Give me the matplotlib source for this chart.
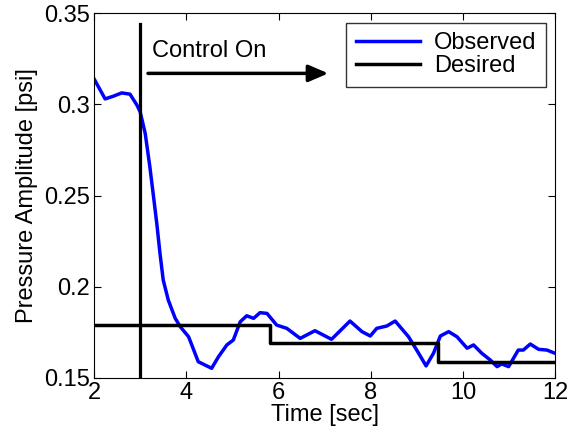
import numpy as np
import matplotlib.pyplot as plt

plt.rcParams['font.family'] = ['Liberation Sans', 'DejaVu Sans']
plt.rcParams['font.size'] = 17

# Observed pressure amplitude (psi) vs time (sec)
t_obs = [2.0, 2.12, 2.24, 2.42, 2.6, 2.78, 2.93, 3.0, 3.11, 3.21, 3.29, 3.36,
         3.43, 3.50, 3.61, 3.76, 3.87, 4.05, 4.26, 4.55, 4.70, 4.88, 5.02, 5.17,
         5.31, 5.46, 5.60, 5.75, 5.96, 6.18, 6.47, 6.79, 7.15, 7.55, 7.81, 7.99,
         8.13, 8.35, 8.53, 8.82, 9.04, 9.20, 9.36, 9.51, 9.69, 9.87, 10.09,
         10.23, 10.41, 10.59, 10.74, 10.84, 10.99, 11.20, 11.31, 11.46, 11.64,
         11.82, 12.0]
p_obs = [0.314, 0.3085, 0.303, 0.3045, 0.3063, 0.3056, 0.2996, 0.2959, 0.284,
         0.2658, 0.2494, 0.2348, 0.2183, 0.2037, 0.1927, 0.1827, 0.1781, 0.1726,
         0.1589, 0.1553, 0.1617, 0.1681, 0.1708, 0.1808, 0.1841, 0.1827, 0.1858,
         0.1854, 0.1790, 0.1772, 0.1717, 0.1759, 0.1712, 0.1812, 0.1754, 0.1730,
         0.1772, 0.1785, 0.1812, 0.1726, 0.1635, 0.1566, 0.1635, 0.1730, 0.1754,
         0.1726, 0.1663, 0.1681, 0.1635, 0.1599, 0.1562, 0.1577, 0.1562, 0.1653,
         0.1653, 0.1686, 0.1657, 0.1653, 0.1635]

# Desired set-point steps
t_des = [2.0, 5.82, 9.46, 12.0]
p_des = [0.179, 0.169, 0.159, 0.159]

t_on = 3.0

fig = plt.figure(figsize=(5.7, 4.4), dpi=100)
ax = fig.add_axes([0.165, 0.141, 0.809, 0.829])

ax.plot(t_obs, p_obs, color='#0000ff', lw=2.5, label='Observed')
ax.plot(t_des, p_des, color='black', lw=2.5, drawstyle='steps-post', label='Desired')
ax.plot([t_on, t_on], [0.15, 0.344], color='black', lw=2.3)

ax.annotate('', xy=(7.08, 0.317), xytext=(3.17, 0.317),
            arrowprops=dict(arrowstyle='-|>,head_length=0.7,head_width=0.3',
                            color='black', lw=2.5, shrinkA=0, shrinkB=0))
ax.text(3.26, 0.329, 'Control On', fontsize=17, va='center', ha='left')

ax.set_xlim(2, 12)
ax.set_ylim(0.15, 0.35)
ax.set_xticks([2, 4, 6, 8, 10, 12])
ax.set_yticks([0.15, 0.2, 0.25, 0.3, 0.35])
ax.set_yticklabels(['0.15', '0.2', '0.25', '0.3', '0.35'])
ax.tick_params(direction='in', top=True, right=True, length=5, pad=3)
ax.set_xlabel('Time [sec]', labelpad=0)
ax.set_ylabel('Pressure Amplitude [psi]', labelpad=4)

leg = ax.legend(loc='upper right', fontsize=17, frameon=True, fancybox=False,
                edgecolor='black', handlelength=2.7, handletextpad=0.6,
                borderpad=0.4, labelspacing=0.05, borderaxespad=0.4)
leg.get_frame().set_linewidth(1.0)

fig.savefig('out.png', dpi=100)
